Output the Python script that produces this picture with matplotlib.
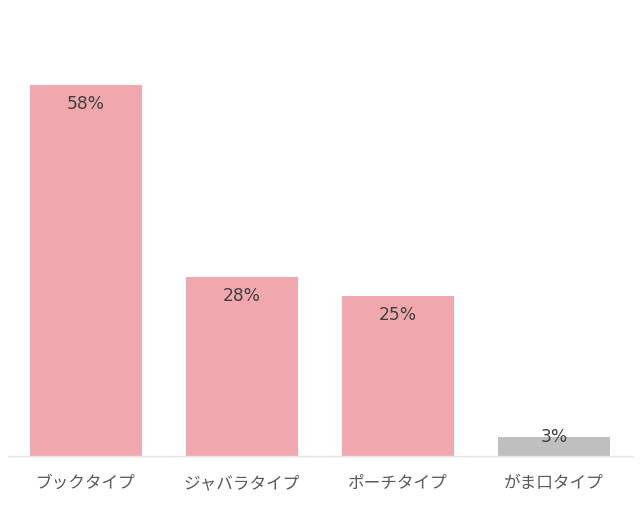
import matplotlib
matplotlib.use("Agg")
import matplotlib.pyplot as plt

plt.rcParams['font.family'] = ['Noto Sans CJK JP', 'DejaVu Sans']

# data
categories = ["ブックタイプ", "ジャバラタイプ", "ポーチタイプ", "がま口タイプ"]
values = [58, 28, 25, 3]
colors = ["#F0A8AE", "#F0A8AE", "#F0A8AE", "#BFBFBF"]

px = 6.4  # pixels per percent

fig = plt.figure(figsize=(6.4, 5.06), dpi=100)
# axes in pixel terms: x 8..632, baseline at y=457
ax = fig.add_axes([8 / 640, (506 - 457) / 506, 624 / 640, 447 / 506])

x = range(len(categories))
ax.bar(x, values, width=0.72, color=colors)

for xi, v in zip(x, values):
    ly = max(v - 18 / px, 20 / px)
    ax.text(xi, ly, f"{v}%", ha="center", va="center", fontsize=12.3,
            color="#404040", family=["DejaVu Sans"])

ax.set_xlim(-0.5, len(categories) - 0.5)
ax.set_ylim(0, 447 / px)
ax.set_xticks(list(x))
ax.set_xticklabels(categories, fontsize=12, color="#595959")
ax.tick_params(axis="x", length=0, pad=13)
ax.set_yticks([])
for s in ["top", "right", "left"]:
    ax.spines[s].set_visible(False)
ax.spines["bottom"].set_color("#E3E3E3")
ax.spines["bottom"].set_linewidth(1)

fig.savefig("out.png", dpi=100)
